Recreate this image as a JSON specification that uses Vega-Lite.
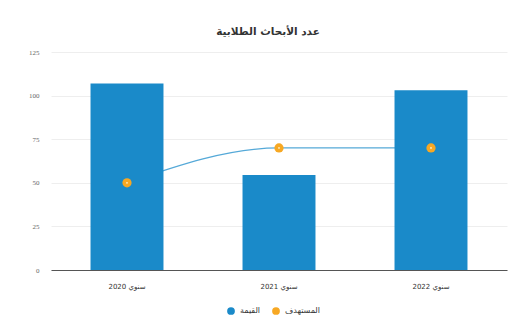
{
  "$schema": "https://vega.github.io/schema/vega-lite/v6.json",
  "width": 456,
  "height": 218,
  "autosize": {"type": "none"},
  "padding": {"left": 51, "top": 52, "right": 23, "bottom": 53},
  "background": "white",
  "title": {
    "text": "عدد الأبحاث الطلابية",
    "font": "DejaVu Sans",
    "fontSize": 10.5,
    "fontWeight": "bold",
    "color": "#333333",
    "anchor": "middle",
    "dx": -11,
    "offset": 11
  },
  "config": {
    "view": {"stroke": null},
    "axis": {"labelFont": "Liberation Serif", "labelColor": "#666666", "labelFontSize": 7}
  },
  "data": {
    "values": [
      {"year": "سنوي 2020", "value": 107, "target": 50},
      {"year": "سنوي 2021", "value": 54.5, "target": 70},
      {"year": "سنوي 2022", "value": 103, "target": 70}
    ]
  },
  "encoding": {
    "x": {
      "field": "year",
      "type": "nominal",
      "sort": null,
      "scale": {"paddingInner": 0.52, "paddingOuter": 0.26},
      "axis": {
        "title": null,
        "labelAngle": 0,
        "ticks": false,
        "domainColor": "#555555",
        "labelPadding": 12,
        "labelFont": "DejaVu Sans",
        "labelColor": "#333333",
        "labelFontSize": 7
      }
    }
  },
  "layer": [
    {
      "mark": {"type": "line", "interpolate": "monotone", "color": "#55a9d8", "strokeWidth": 1.2},
      "encoding": {
        "y": {"field": "target", "type": "quantitative"}
      }
    },
    {
      "mark": {"type": "bar", "cornerRadius": 0},
      "encoding": {
        "y": {
          "field": "value",
          "type": "quantitative",
          "scale": {"domain": [0, 125], "nice": false},
          "axis": {
            "title": null,
            "values": [0, 25, 50, 75, 100, 125],
            "ticks": false,
            "domain": false,
            "gridColor": "#eeeeee",
            "labelPadding": 12
          }
        },
        "color": {
          "datum": "القيمة",
          "type": "nominal",
          "scale": {"domain": ["القيمة", "المستهدف"], "range": ["#1a8ac9", "#f7a823"]},
          "legend": {
            "title": null,
            "orient": "none",
            "legendX": 175,
            "legendY": 254,
            "direction": "horizontal",
            "symbolType": "circle",
            "symbolSize": 60,
            "labelFont": "DejaVu Sans",
            "labelFontSize": 8,
            "labelColor": "#333333",
            "columnPadding": 10
          }
        }
      }
    },
    {
      "mark": {"type": "point", "filled": true, "size": 85, "opacity": 1},
      "encoding": {
        "y": {"field": "target", "type": "quantitative"},
        "color": {"datum": "المستهدف", "type": "nominal"}
      }
    },
    {
      "mark": {"type": "point", "filled": true, "size": 3, "color": "#fff3d0", "opacity": 1},
      "encoding": {
        "y": {"field": "target", "type": "quantitative"}
      }
    }
  ]
}
